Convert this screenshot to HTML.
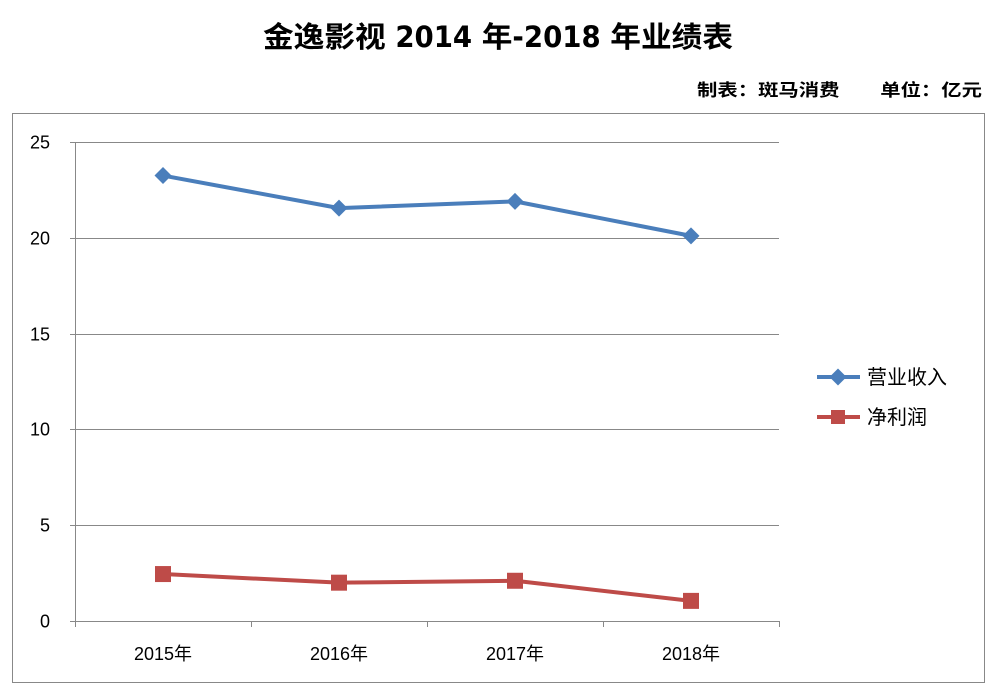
<!DOCTYPE html>
<html><head><meta charset="utf-8"><style>
body{margin:0;background:#fff;width:997px;height:695px;overflow:hidden;font-family:"Liberation Sans","Noto Sans CJK SC",sans-serif}
</style></head><body>
<svg width="997" height="695" xmlns="http://www.w3.org/2000/svg" font-family="Liberation Sans, Noto Sans CJK SC, sans-serif">
<text x="263" y="47" textLength="470" lengthAdjust="spacingAndGlyphs" font-size="29" font-weight="bold" fill="#000" font-family="DejaVu Sans Condensed, DejaVu Sans, Noto Sans CJK SC, sans-serif">金逸影视 2014 年-2018 年业绩表</text>
<text x="697" y="96" textLength="285" lengthAdjust="spacingAndGlyphs" font-size="17" font-weight="bold" fill="#000">制表：斑马消费　　单位：亿元</text>
<rect x="12.5" y="113.5" width="972" height="569" fill="none" stroke="#888"/>
<g id="grid"></g>
<g id="axes"></g>
<g id="series"></g>
<g>
<g><line x1="817" y1="377" x2="860" y2="377" stroke="#4a7ebb" stroke-width="4"/><rect x="832" y="371" width="12" height="12" fill="#4a7ebb" transform="rotate(45 838 377)"/><text x="867" y="384" font-size="20" fill="#000">营业收入</text></g>
<g><line x1="817" y1="417" x2="860" y2="417" stroke="#be4b48" stroke-width="4"/><rect x="831" y="410" width="14" height="14" fill="#be4b48"/><text x="867" y="424" font-size="20" fill="#000">净利润</text></g>
</g>
</svg>
<script>
const categories=["2015年","2016年","2017年","2018年"];
const revenue=[23.25,21.55,21.9,20.1];
const profit=[2.45,2.0,2.1,1.05];
const yTicks=[0,5,10,15,20,25];
const NS="http://www.w3.org/2000/svg";
const x0=75,x1=779,yBase=621,yTop=142,yMax=25;
const bw=(x1-x0)/categories.length;
const xS=i=>x0+bw*(i+0.5);
const yS=v=>yBase-(v/yMax)*(yBase-yTop);
function mk(t,a,p){const e=document.createElementNS(NS,t);for(const k in a)e.setAttribute(k,a[k]);p.appendChild(e);return e;}
const grid=document.getElementById('grid'),axes=document.getElementById('axes'),ser=document.getElementById('series');
yTicks.forEach(v=>{const y=Math.round(yS(v))+0.5;
 if(v>0){const g=mk('line',{x1:x0,x2:x1,y1:y,y2:y,stroke:'#888','stroke-width':1},grid);
 
 }
 mk('line',{x1:x0-5,x2:x0,y1:y,y2:y,stroke:'#888'},axes);
 const t=mk('text',{x:x0-25,y:y+6,'text-anchor':'end','font-size':18,fill:'#000'},axes);t.textContent=v;
 
 
});
mk('line',{x1:x0+0.5,x2:x0+0.5,y1:yTop,y2:yBase,stroke:'#888'},axes);
mk('line',{x1:x0,x2:x1,y1:yBase+0.5,y2:yBase+0.5,stroke:'#888'},axes);
for(let i=0;i<=categories.length;i++){const x=Math.round(x0+bw*i)+0.5;mk('line',{x1:x,x2:x,y1:yBase,y2:yBase+6,stroke:'#888'},axes);}
categories.forEach((c,i)=>{const t=mk('text',{x:xS(i),y:yBase+39,'text-anchor':'middle','font-size':18,fill:'#000'},axes);t.textContent=c;
 
 });
function line(vals,color,name,marker){
 const pl=mk('polyline',{points:vals.map((v,i)=>xS(i)+','+yS(v)).join(' '),fill:'none',stroke:color,'stroke-width':4,'stroke-linejoin':'round'},ser);
 
 
 vals.forEach((v,i)=>{let m;
  if(marker==='d'){m=mk('rect',{x:xS(i)-6,y:yS(v)-6,width:12,height:12,fill:color,transform:`rotate(45 ${xS(i)} ${yS(v)})`},ser);}
  else{m=mk('rect',{x:xS(i)-8,y:yS(v)-8,width:16,height:16,fill:color},ser);}
  
  
 });
}
line(revenue,'#4a7ebb','revenue','d');
line(profit,'#be4b48','profit','s');
</script>
</body></html>
